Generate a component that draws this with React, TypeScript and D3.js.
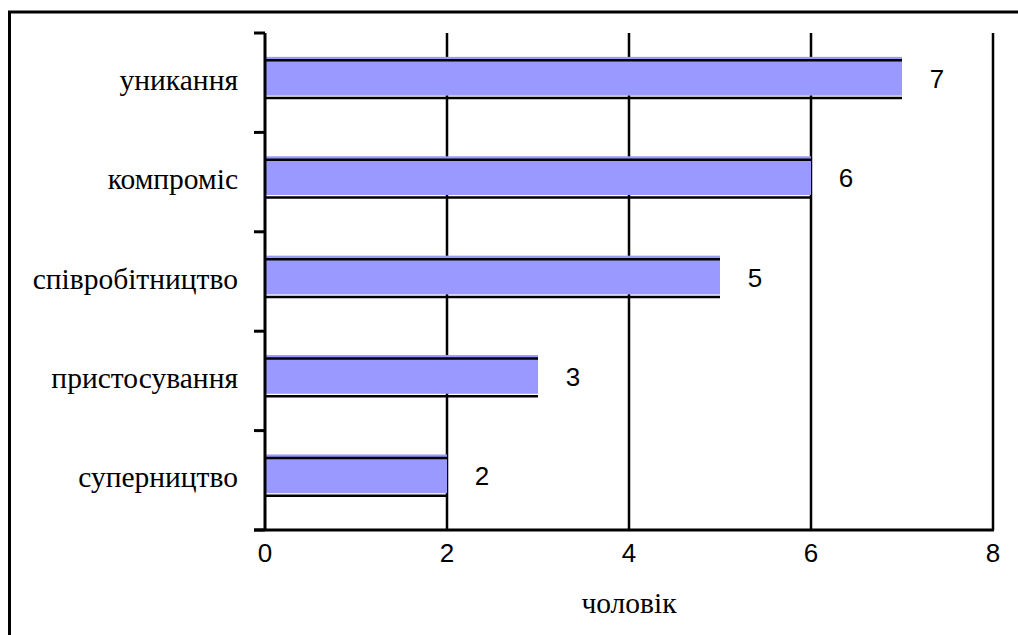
import React from "react";
import * as d3 from "d3";

// Conflict-handling styles and the number of people choosing each
const categories = ["уникання", "компроміс", "співробітництво", "пристосування", "суперництво"];
const counts = [7, 6, 5, 3, 2];
const xTicks = [0, 2, 4, 6, 8];
const xTitle = "чоловік";

const W = 1018;
const H = 635;
const margin = { left: 265, right: 25, top: 33, bottom: 105 };

export default function App() {
  const x = d3.scaleLinear().domain([0, 8]).range([margin.left, W - margin.right]);
  const y = d3
    .scaleBand<string>()
    .domain(categories)
    .range([margin.top, H - margin.bottom])
    .paddingInner(0.6)
    .paddingOuter(0.3)
    .align(0.4);
  const step = y.step();
  const bw = y.bandwidth();
  const x0 = x(0);
  const yTop = margin.top;
  const yBot = H - margin.bottom;
  const boundaries = d3.range(categories.length + 1).map((i) => yTop + i * step);
  const serif = "'Liberation Serif', 'Times New Roman', serif";
  const sans = "'Liberation Sans', Arial, sans-serif";

  return (
    <svg
      width={W}
      height={H}
      style={{ position: "absolute", left: 0, top: 0, background: "#fff" }}
    >
      {/* frame */}
      <path d={`M9.5,${H} V12 H${W}`} fill="none" stroke="#000" strokeWidth={3} />

      {/* vertical grid lines */}
      {xTicks.slice(1).map((t) => (
        <line key={t} x1={x(t)} x2={x(t)} y1={yTop} y2={yBot} stroke="#000" strokeWidth={2.5} />
      ))}

      {/* bars */}
      {categories.map((c, i) => {
        const top = y(c)!;
        const xe = x(counts[i]);
        return (
          <g key={c}>
            <rect x={x0} y={top} width={xe - x0} height={bw - 1} fill="#9999ff" />
            <line x1={x0} x2={xe} y1={top + 3.5} y2={top + 3.5} stroke="#000" strokeWidth={2.5} />
            <line x1={x0} x2={xe} y1={top + bw + 1.5} y2={top + bw + 1.5} stroke="#000" strokeWidth={2.5} />
            <text
              x={xe + 35}
              y={top + bw / 2 + 2}
              textAnchor="middle"
              dominantBaseline="central"
              fontFamily={sans}
              fontSize={26}
            >
              {counts[i]}
            </text>
            <text
              x={238}
              y={top + bw / 2 + 3}
              textAnchor="end"
              dominantBaseline="central"
              fontFamily={serif}
              fontSize={29.5}
            >
              {c}
            </text>
          </g>
        );
      })}

      {/* y axis with category tick marks */}
      <line x1={x0} x2={x0} y1={yTop} y2={yBot} stroke="#000" strokeWidth={3} />
      {boundaries.map((b, i) => (
        <line key={i} x1={x0 - 11} x2={x0} y1={b} y2={b} stroke="#000" strokeWidth={3} />
      ))}

      {/* x axis */}
      <line x1={x0 - 11} x2={x(8) + 1} y1={yBot} y2={yBot} stroke="#000" strokeWidth={3} />
      {xTicks.map((t) => (
        <text
          key={t}
          x={x(t)}
          y={yBot + 23}
          textAnchor="middle"
          dominantBaseline="central"
          fontFamily={sans}
          fontSize={26}
        >
          {t}
        </text>
      ))}
      <text
        x={(x(0) + x(8)) / 2}
        y={yBot + 73}
        textAnchor="middle"
        dominantBaseline="central"
        fontFamily={serif}
        fontSize={29.5}
      >
        {xTitle}
      </text>
    </svg>
  );
}
